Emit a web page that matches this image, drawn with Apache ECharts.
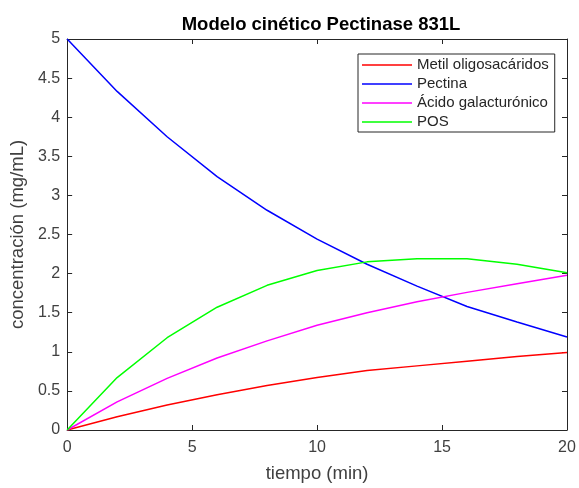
<!DOCTYPE html>
<html>
<head>
<meta charset="utf-8">
<script src="https://cdn.jsdelivr.net/npm/echarts@6/dist/echarts.min.js"></script>
<style>
  html, body { margin: 0; padding: 0; background: #fff; }
  #chart { width: 579px; height: 488px; }
</style>
</head>
<body>
<div id="chart"></div>
<script>
// Time points (min)
const tiempo = [0, 2, 4, 6, 8, 10, 12, 14, 16, 18, 20];

// Concentrations (mg/mL) at each time point
const metilOligosacaridos = [0, 0.17, 0.32, 0.45, 0.57, 0.67, 0.76, 0.82, 0.88, 0.94, 0.99];
const pectina             = [5, 4.33, 3.75, 3.24, 2.81, 2.44, 2.12, 1.84, 1.58, 1.38, 1.19];
const acidoGalacturonico  = [0, 0.36, 0.66, 0.92, 1.14, 1.34, 1.50, 1.64, 1.76, 1.87, 1.98];
const pos                 = [0, 0.67, 1.18, 1.57, 1.85, 2.04, 2.15, 2.19, 2.19, 2.12, 2.01];

const seriesNames = ['Metil oligosacáridos', 'Pectina', 'Ácido galacturónico', 'POS'];
const seriesData = [metilOligosacaridos, pectina, acidoGalacturonico, pos];
const seriesColors = ['#ff0000', '#0000ff', '#ff00ff', '#00ff00'];

const FONT = '"Liberation Sans", Arial, sans-serif';
const AXIS_COLOR = '#262626';
const LABEL_COLOR = '#404040';

const chart = echarts.init(document.getElementById('chart'), null, { renderer: 'canvas' });

const baseAxisLine = { show: true, onZero: false, lineStyle: { color: AXIS_COLOR, width: 1 } };
const baseTick = { show: true, inside: true, length: 5, lineStyle: { color: AXIS_COLOR, width: 1 } };

function xAxisDef(pos, showLabels) {
  return {
    type: 'value', position: pos, min: 0, max: 20, interval: 5,
    axisLine: baseAxisLine, axisTick: baseTick, splitLine: { show: false },
    axisLabel: {
      show: showLabels, color: LABEL_COLOR, fontFamily: FONT, fontSize: 16, margin: 10
    },
    name: showLabels ? 'tiempo (min)' : '', nameLocation: 'middle', nameGap: 34,
    nameTextStyle: { color: LABEL_COLOR, fontFamily: FONT, fontSize: 18.5 }
  };
}
function yAxisDef(pos, showLabels) {
  return {
    type: 'value', position: pos, min: 0, max: 5, interval: 0.5,
    axisLine: baseAxisLine, axisTick: baseTick, splitLine: { show: false },
    axisLabel: {
      show: showLabels, color: LABEL_COLOR, fontFamily: FONT, fontSize: 16, margin: 7,
      formatter: v => String(v)
    },
    name: showLabels ? 'concentración (mg/mL)' : '', nameLocation: 'middle', nameGap: 30,
    nameTextStyle: { color: LABEL_COLOR, fontFamily: FONT, fontSize: 18.5 }
  };
}

chart.setOption({
  animation: false,
  backgroundColor: '#ffffff',
  title: {
    text: 'Modelo cinético Pectinase 831L',
    left: 316, top: 10, textAlign: 'center',
    textStyle: { color: '#000', fontFamily: FONT, fontSize: 18.5, fontWeight: 'bold' }
  },
  grid: { left: 65, top: 39, width: 502, height: 398, containLabel: false },
  xAxis: [xAxisDef('bottom', true), xAxisDef('top', false)],
  yAxis: [yAxisDef('left', true), yAxisDef('right', false)],
  legend: {
    orient: 'vertical',
    left: 358, top: 54,
    padding: [3, 6, 2, 4],
    itemGap: 3,
    itemWidth: 50, itemHeight: 1.5,
    icon: 'rect',
    borderColor: AXIS_COLOR, borderWidth: 1,
    backgroundColor: '#fff',
    textStyle: { color: '#262626', fontFamily: FONT, fontSize: 15, lineHeight: 16 },
    data: seriesNames
  },
  series: seriesNames.map((name, i) => ({
    name,
    type: 'line',
    xAxisIndex: 0, yAxisIndex: 0,
    data: tiempo.map((t, k) => [t, seriesData[i][k]]),
    symbol: 'none',
    lineStyle: { color: seriesColors[i], width: 1.5 },
    itemStyle: { color: seriesColors[i] },
    emphasis: { disabled: true }
  }))
});
</script>
</body>
</html>
